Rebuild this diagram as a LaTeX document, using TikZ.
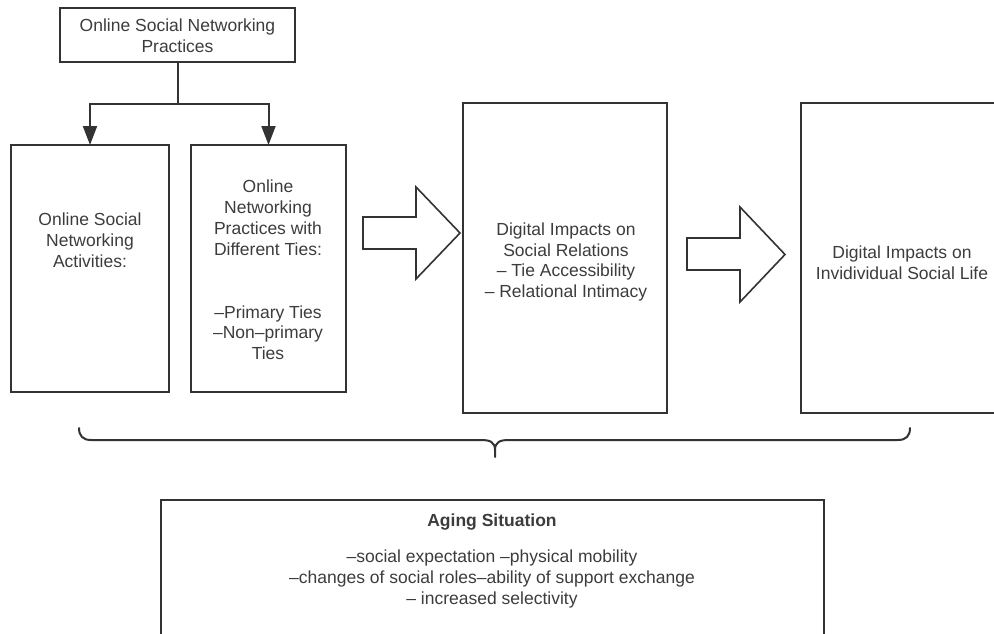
\documentclass[tikz,border=0pt]{standalone}
\usepackage{fontspec}
\setmainfont{Liberation Sans}
\usetikzlibrary{arrows.meta}
\definecolor{ln}{HTML}{333333}
\definecolor{tx}{HTML}{3C3C3C}
\begin{document}
\begin{tikzpicture}[x=1pt,y=-1pt,
  box/.style={draw=ln, line width=2pt, rectangle, inner sep=0pt, outer sep=0pt},
  txt/.style={text=tx, align=center, font=\fontsize{17.5}{20.8}\selectfont, inner sep=0pt},
  conn/.style={draw=ln, line width=2pt},
  tip/.style={-{Triangle[width=14pt,length=19pt]}},
  blockarrow/.style={draw=ln, line width=1.6pt, fill=white, line join=miter}]
\useasboundingbox (0,0) rectangle (994,634);

% boxes
\node[box, minimum width=235pt, minimum height=54pt] (top) at (177.5,35) {};
\node[txt] (toptxt) at (177.5,36) {Online Social Networking\\Practices};

\node[box, minimum width=158pt, minimum height=247pt] (A) at (90,268.5) {};
\node[txt] (Atxt) at (90,240) {Online Social\\Networking\\Activities:};

\node[box, minimum width=155pt, minimum height=247pt] (B) at (268.5,268.5) {};
\node[txt] (Btxt) at (268,270) {Online\\Networking\\Practices with\\Different Ties:\\[42pt]–Primary Ties\\–Non–primary\\Ties};

\node[box, minimum width=204pt, minimum height=310pt] (C) at (565,258) {};
\node[txt] (Ctxt) at (566,262) {Digital Impacts on\\Social Relations\\– Tie Accessibility\\– Relational Intimacy};

\node[box, minimum width=202pt, minimum height=310pt] (D) at (902,258) {};
\node[txt] (Dtxt) at (902,263) {Digital Impacts on\\Invidividual Social Life};

\node[box, minimum width=663pt, minimum height=150pt] (E) at (492.5,575) {};
\node[txt, font=\fontsize{17.5}{20.8}\selectfont\bfseries] (Etitle) at (492,522) {Aging Situation};
\node[txt] (Etxt) at (492,579) {–social expectation –physical mobility\\–changes of social roles–ability of support exchange\\– increased selectivity};

% tree connectors
\coordinate (split) at (top.south |- 0,104);
\draw[conn] (top.south) -- (split);
\draw[conn, tip] (split) -| (A.north);
\draw[conn, tip] (split) -| (B.north);

% block arrows
\draw[blockarrow] (363,217) -- (416,217) -- (416,187) -- (460,233) -- (416,279) -- (416,249) -- (363,249) -- cycle;
\draw[blockarrow] (687,238) -- (740,238) -- (740,207) -- (785,254.5) -- (740,302) -- (740,270) -- (687,270) -- cycle;

% brace
\coordinate (bl) at (79,428);
\coordinate (br) at (910,428);
\coordinate (bm) at (495,457);
\draw[conn, line cap=round] (bl) .. controls (79,436) and (83,440) .. (91,440) -- (481,440)
   .. controls (490,440) and (495,442) .. (495,450) -- (bm);
\draw[conn, line cap=round] (br) .. controls (910,436) and (906,440) .. (898,440) -- (509,440)
   .. controls (500,440) and (495,442) .. (495,450);
\end{tikzpicture}
\end{document}
